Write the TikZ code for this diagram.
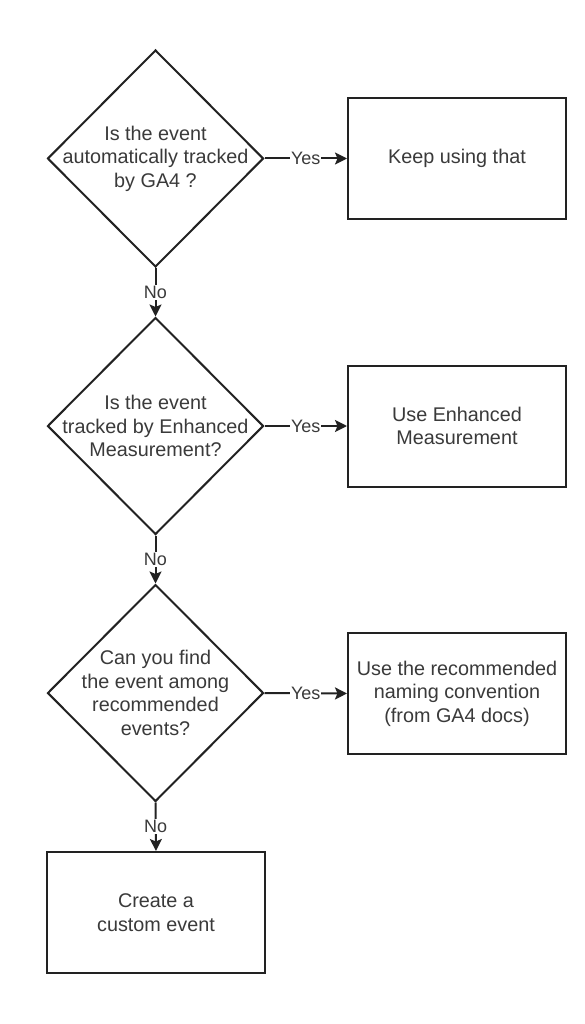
\documentclass[tikz,border=0pt]{standalone}
\usepackage{fontspec}
\setmainfont{Liberation Sans}
\usetikzlibrary{shapes.geometric,arrows.meta}
\definecolor{txt}{HTML}{3A3A3A}
\definecolor{ln}{HTML}{222222}
\begin{document}
\begin{tikzpicture}[x=1pt,y=-1pt,
  txtnode/.style={font=\fontsize{19.8}{23.5}\selectfont, text=txt, align=center, inner sep=0pt},
  decision/.style={diamond, draw=ln, line width=2pt, minimum width=216pt, minimum height=217pt, inner sep=0pt},
  stepbox/.style={rectangle, draw=ln, line width=2pt, minimum width=218pt, minimum height=121pt, inner sep=2pt, font=\fontsize{19.8}{23.5}\selectfont, text=txt, align=center},
  arr/.style={draw=ln, line width=2pt, -{Stealth[length=12pt,width=12pt,inset=2.5pt]}},
  lab/.style={fill=white, inner sep=1pt, font=\fontsize{18}{20}\selectfont, text=txt}]
\path[use as bounding box, fill=white] (0,0) rectangle (584,1024);

\node[decision] (d1) at (155.5,158.5) {};
\node[txtnode] (t1) at (d1.center) {Is the event\\automatically tracked\\by GA4 ?};
\node[decision] (d2) at (155.5,426) {};
\node[txtnode] (t2) at (d2.center) {Is the event\\tracked by Enhanced\\Measurement?};
\node[decision] (d3) at (155.5,693) {};
\node[txtnode] (t3) at (d3.center) {Can you find\\the event among\\recommended\\events?};

\node[stepbox] (b1) at (457,158.5) {Keep using that};
\node[stepbox] (b2) at (457,426) {Use Enhanced\\Measurement};
\node[stepbox] (b3) at (457,693.5) {Use the recommended\\naming convention\\(from GA4 docs)};
\node[stepbox] (b4) at (156,912.5) {Create a\\custom event};

\draw[arr] (d1.east) -- node[lab] {Yes} (b1.west);
\draw[arr] (d2.east) -- node[lab] {Yes} (b2.west);
\draw[arr] (d3.east) -- node[lab] {Yes} (b3.west);
\draw[arr] (d1.south) -- node[lab] {No} (d2.north);
\draw[arr] (d2.south) -- node[lab] {No} (d3.north);
\draw[arr] (d3.south) -- node[lab] {No} (b4.north);
\end{tikzpicture}
\end{document}
